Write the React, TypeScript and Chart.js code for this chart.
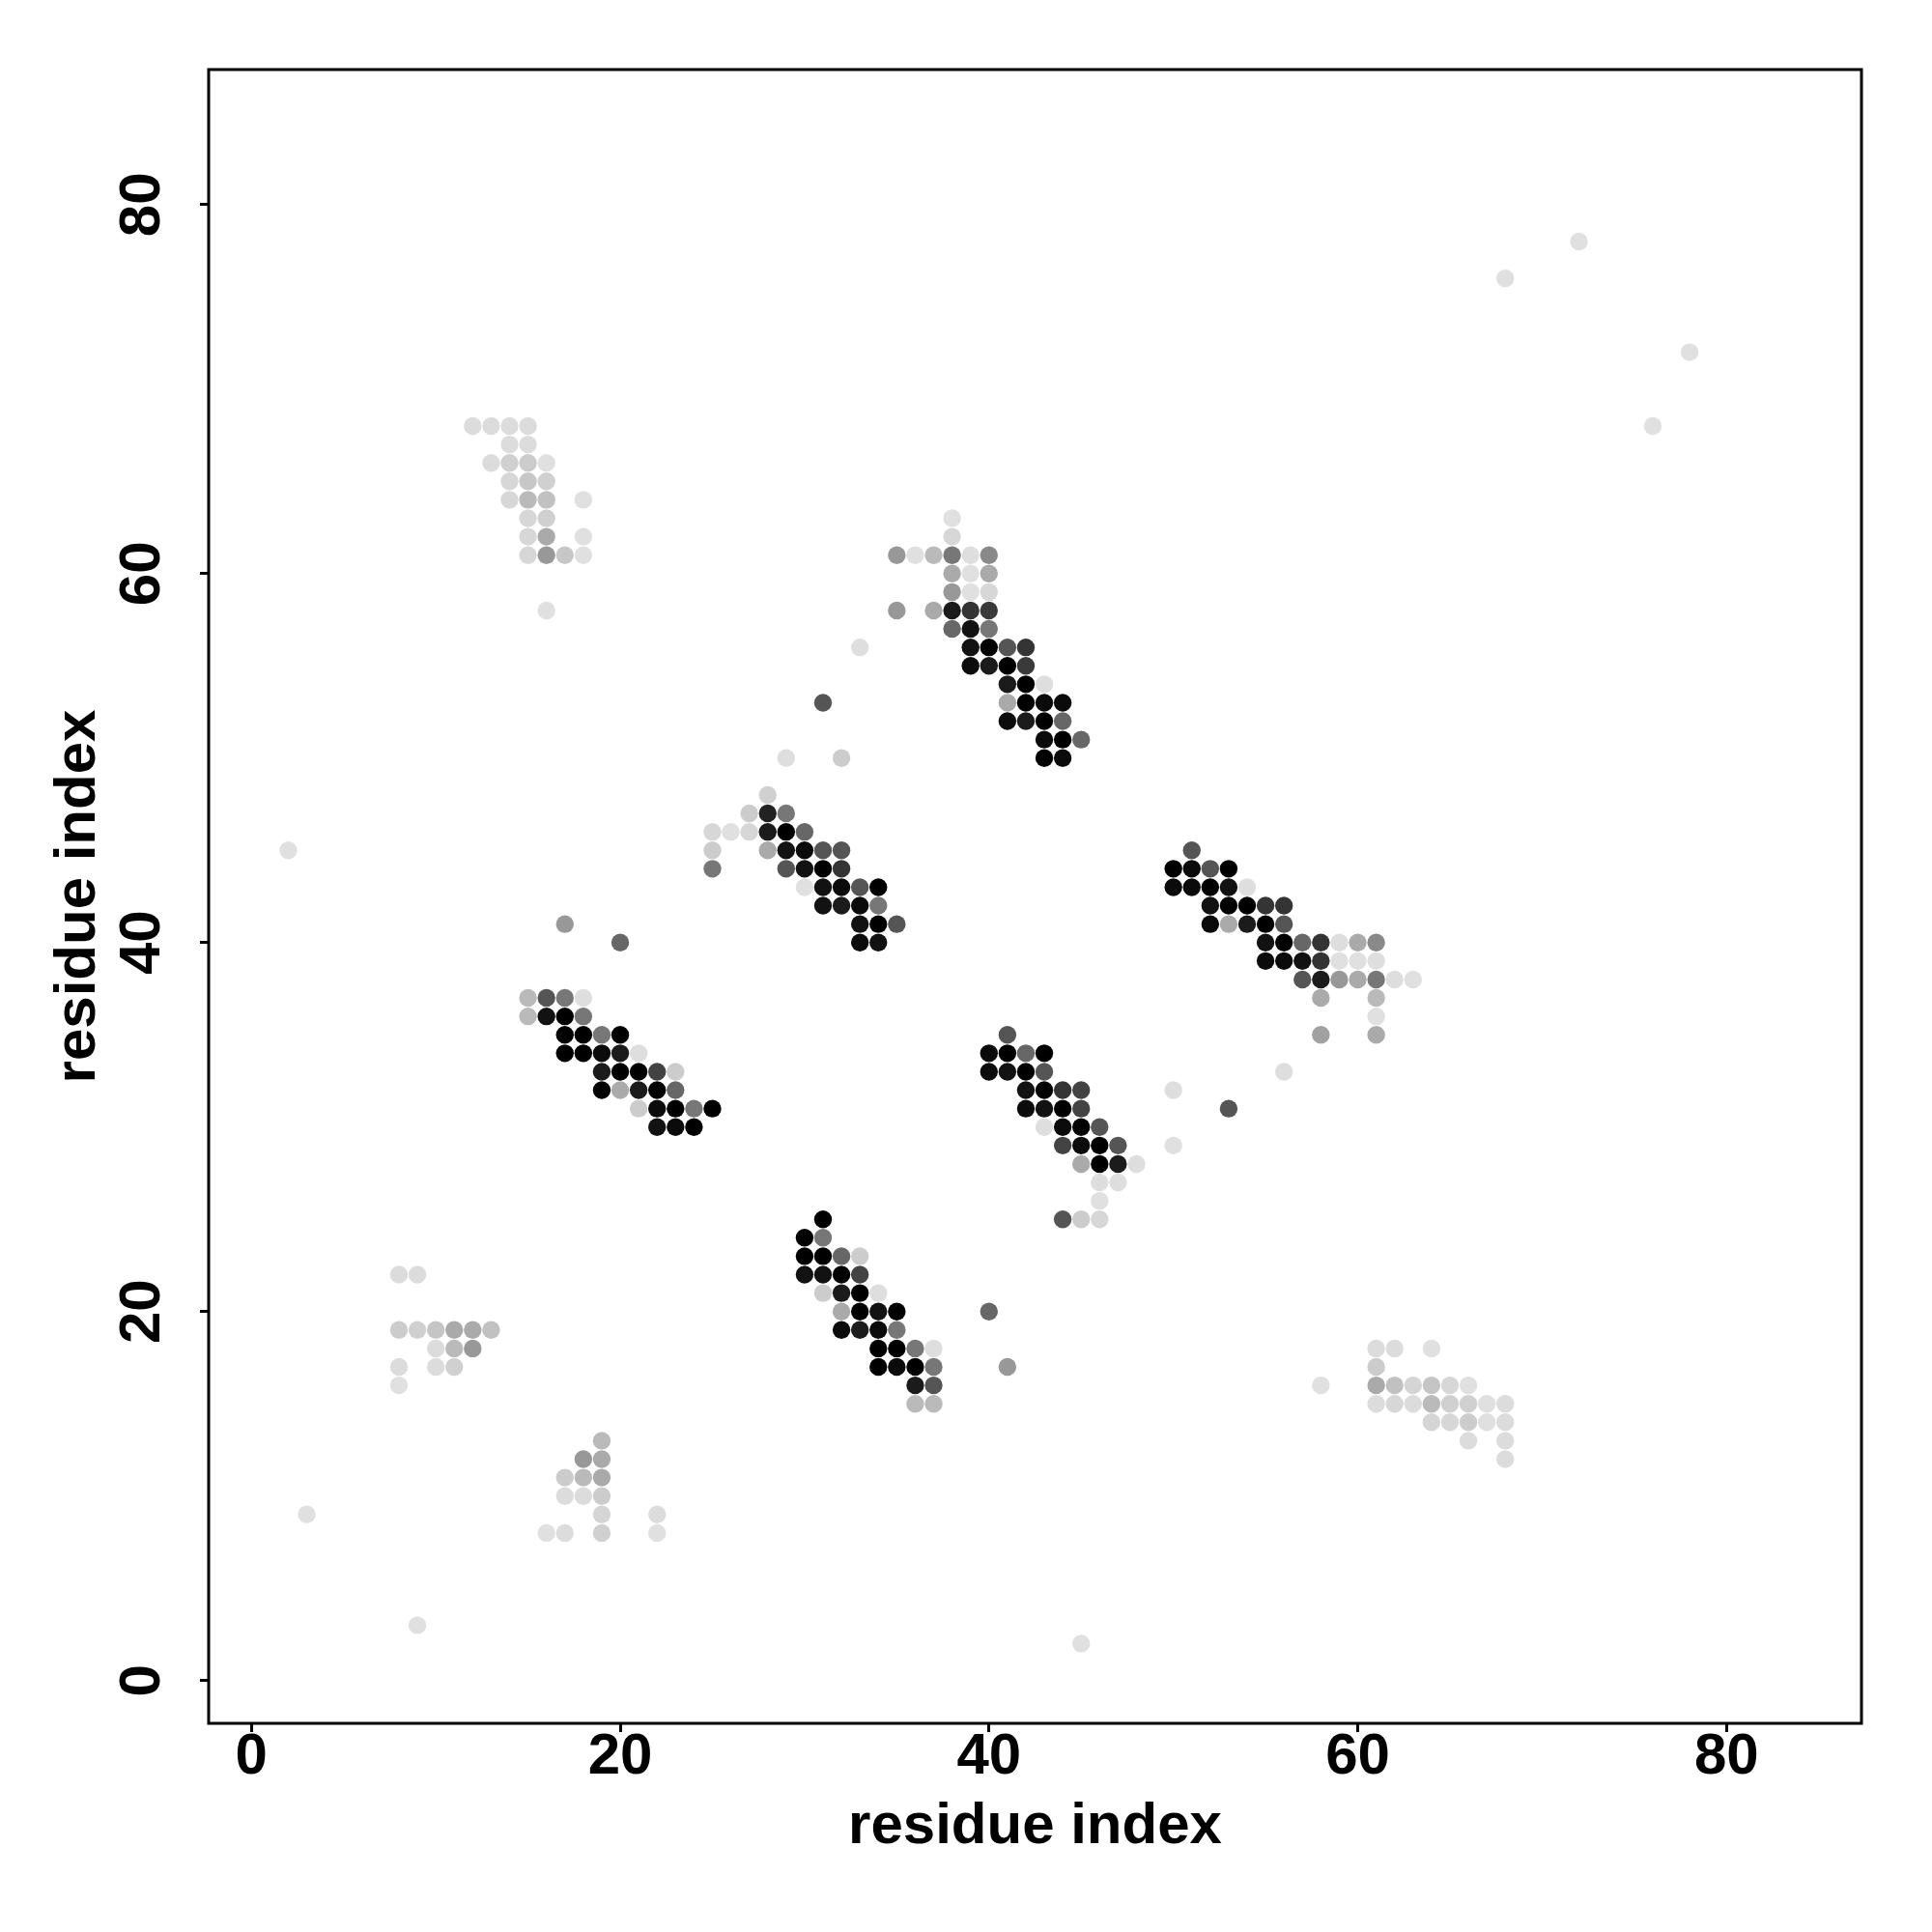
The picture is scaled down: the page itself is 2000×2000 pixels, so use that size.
import React, { useEffect, useRef } from "react";
import { Chart, registerables } from "chart.js";

Chart.register(...registerables);

// Each contact: [residue i, residue j, contact probability]
type Contact = [number, number, number];

const upperLeftContacts: Contact[] = [
  [12, 68, 0.02], [13, 68, 0.02], [14, 68, 0.02], [15, 68, 0.02],
  [14, 67, 0.02], [15, 67, 0.02],
  [13, 66, 0.02], [14, 66, 0.07], [15, 66, 0.09], [16, 66, 0.0],
  [14, 65, 0.04], [15, 65, 0.11], [16, 65, 0.07],
  [14, 64, 0.04], [15, 64, 0.17], [16, 64, 0.14], [18, 64, 0.0],
  [15, 63, 0.04], [16, 63, 0.07],
  [15, 62, 0.04], [16, 62, 0.24], [18, 62, 0.0],
  [15, 61, 0.04], [16, 61, 0.32], [17, 61, 0.11], [18, 61, 0.0],
  [16, 58, 0.0],
];

const hairpinB: Contact[] = [
  [33, 56, 0.01], [31, 53, 0.62], [29, 50, 0.01], [32, 50, 0.09], [35, 58, 0.32],
  [28, 48, 0.07],
  [27, 47, 0.09], [28, 47, 0.85], [29, 47, 0.47],
  [25, 46, 0.04], [26, 46, 0.0], [27, 46, 0.04], [28, 46, 0.88], [29, 46, 1.0], [30, 46, 0.54],
  [25, 45, 0.09], [28, 45, 0.24], [29, 45, 0.92], [30, 45, 0.95], [31, 45, 0.62], [32, 45, 0.62],
  [25, 44, 0.47], [29, 44, 0.62], [30, 44, 0.92], [31, 44, 1.0], [32, 44, 0.77],
  [30, 43, 0.0], [31, 43, 0.92], [32, 43, 0.95], [33, 43, 0.62], [34, 43, 1.0],
  [31, 42, 0.92], [32, 42, 0.88], [33, 42, 0.95], [34, 42, 0.47],
  [33, 41, 0.92], [34, 41, 1.0], [35, 41, 0.62],
  [33, 40, 0.95], [34, 40, 0.92],
];

const hairpinC: Contact[] = [
  [38, 63, 0.0], [38, 62, 0.04],
  [35, 61, 0.32], [36, 61, 0.0], [37, 61, 0.17], [38, 61, 0.47], [39, 61, 0.01], [40, 61, 0.39],
  [38, 60, 0.24], [39, 60, 0.0], [40, 60, 0.24],
  [38, 59, 0.32], [39, 59, 0.0], [40, 59, 0.04],
  [37, 58, 0.24], [38, 58, 0.88], [39, 58, 0.77], [40, 58, 0.74],
  [38, 57, 0.54], [39, 57, 0.92], [40, 57, 0.47],
  [39, 56, 0.92], [40, 56, 1.0], [41, 56, 0.62], [42, 56, 0.77],
  [39, 55, 0.95], [40, 55, 0.88], [41, 55, 1.0], [42, 55, 0.74],
  [41, 54, 0.88], [42, 54, 1.0], [43, 54, 0.01],
  [41, 53, 0.24], [42, 53, 1.0], [43, 53, 0.95], [44, 53, 0.95],
  [41, 52, 0.95], [42, 52, 0.88], [43, 52, 1.0], [44, 52, 0.54],
  [43, 51, 0.95], [44, 51, 1.0], [45, 51, 0.54],
  [43, 50, 1.0], [44, 50, 0.95],
];

const hairpinD: Contact[] = [
  [17, 41, 0.32], [20, 40, 0.54],
  [15, 37, 0.17], [16, 37, 0.62], [17, 37, 0.47], [18, 37, 0.01],
  [15, 36, 0.17], [16, 36, 0.92], [17, 36, 1.0], [18, 36, 0.47],
  [17, 35, 1.0], [18, 35, 1.0], [19, 35, 0.47], [20, 35, 1.0],
  [17, 34, 1.0], [18, 34, 1.0], [19, 34, 0.95], [20, 34, 0.88], [21, 34, 0.01],
  [19, 33, 0.88], [20, 33, 1.0], [21, 33, 1.0], [22, 33, 0.7], [23, 33, 0.09],
  [19, 32, 1.0], [20, 32, 0.24], [21, 32, 0.88], [22, 32, 1.0], [23, 32, 0.54],
  [21, 31, 0.09], [22, 31, 0.95], [23, 31, 1.0], [24, 31, 0.47], [25, 31, 1.0],
  [22, 30, 0.92], [23, 30, 0.95], [24, 30, 1.0],
];

const hairpinE: Contact[] = [
  [41, 35, 0.62],
  [40, 34, 0.95], [41, 34, 1.0], [42, 34, 0.54], [43, 34, 1.0],
  [40, 33, 0.95], [41, 33, 0.92], [42, 33, 1.0], [43, 33, 0.62],
  [42, 32, 0.92], [43, 32, 1.0], [44, 32, 0.77], [45, 32, 0.7],
  [42, 31, 0.95], [43, 31, 0.92], [44, 31, 1.0], [45, 31, 0.7],
  [43, 30, 0.01], [44, 30, 0.95], [45, 30, 1.0], [46, 30, 0.62],
  [44, 29, 0.7], [45, 29, 0.95], [46, 29, 1.0], [47, 29, 0.62],
  [45, 28, 0.24], [46, 28, 1.0], [47, 28, 0.88], [48, 28, 0.01],
  [46, 27, 0.01], [47, 27, 0.01],
  [46, 26, 0.0],
  [44, 25, 0.62], [45, 25, 0.09], [46, 25, 0.04],
];

const hairpinF: Contact[] = [
  [51, 45, 0.62],
  [50, 44, 1.0], [51, 44, 0.95], [52, 44, 0.62], [53, 44, 1.0],
  [50, 43, 0.95], [51, 43, 0.95], [52, 43, 1.0], [53, 43, 0.92], [54, 43, 0.01],
  [52, 42, 0.92], [53, 42, 1.0], [54, 42, 1.0], [55, 42, 0.77], [56, 42, 0.77],
  [52, 41, 0.95], [53, 41, 0.24], [54, 41, 0.88], [55, 41, 1.0], [56, 41, 0.62],
  [55, 40, 0.92], [56, 40, 1.0], [57, 40, 0.54], [58, 40, 0.77], [59, 40, 0.01], [60, 40, 0.24], [61, 40, 0.39],
  [55, 39, 0.95], [56, 39, 0.95], [57, 39, 0.92], [58, 39, 0.77], [59, 39, 0.0], [60, 39, 0.0], [61, 39, 0.01],
  [57, 38, 0.62], [58, 38, 0.88], [59, 38, 0.32], [60, 38, 0.24], [61, 38, 0.47], [62, 38, 0.01], [63, 38, 0.0],
  [58, 37, 0.24], [61, 37, 0.17],
  [61, 36, 0.0],
  [58, 35, 0.28], [61, 35, 0.24],
  [56, 33, 0.01], [50, 32, 0.01], [50, 29, 0.0], [53, 31, 0.62],
];

const hairpinG: Contact[] = [
  [31, 25, 1.0],
  [30, 24, 1.0], [31, 24, 0.47],
  [30, 23, 1.0], [31, 23, 1.0], [32, 23, 0.54], [33, 23, 0.09],
  [30, 22, 0.92], [31, 22, 0.92], [32, 22, 1.0], [33, 22, 0.7],
  [31, 21, 0.09], [32, 21, 0.88], [33, 21, 1.0], [34, 21, 0.01],
  [32, 20, 0.24], [33, 20, 1.0], [34, 20, 0.92], [35, 20, 1.0], [40, 20, 0.54],
  [32, 19, 0.95], [33, 19, 0.88], [34, 19, 0.95], [35, 19, 0.47],
  [34, 18, 1.0], [35, 18, 1.0], [36, 18, 0.47], [37, 18, 0.01],
  [34, 17, 1.0], [35, 17, 0.95], [36, 17, 1.0], [37, 17, 0.47], [41, 17, 0.32],
  [36, 16, 0.88], [37, 16, 0.62],
  [36, 15, 0.17], [37, 15, 0.17],
];

const lowerLeftContacts: Contact[] = [
  [8, 22, 0.02], [9, 22, 0.02],
  [8, 19, 0.09], [9, 19, 0.07], [10, 19, 0.12], [11, 19, 0.24], [12, 19, 0.24], [13, 19, 0.14],
  [10, 18, 0.02], [11, 18, 0.17], [12, 18, 0.32],
  [8, 17, 0.02], [10, 17, 0.02], [11, 17, 0.07],
  [8, 16, 0.0],
  [19, 13, 0.17],
  [18, 12, 0.32], [19, 12, 0.24],
  [17, 11, 0.09], [18, 11, 0.17], [19, 11, 0.24],
  [17, 10, 0.02], [18, 10, 0.02], [19, 10, 0.09],
  [19, 9, 0.05], [22, 9, 0.02],
  [16, 8, 0.0], [17, 8, 0.02], [19, 8, 0.07], [22, 8, 0.0],
];

const lowerRightContacts: Contact[] = [
  [58, 16, 0.0],
  [61, 18, 0.02], [62, 18, 0.02], [64, 18, 0.0],
  [61, 17, 0.09],
  [61, 16, 0.24], [62, 16, 0.14], [63, 16, 0.05], [64, 16, 0.12], [65, 16, 0.04], [66, 16, 0.0],
  [61, 15, 0.02], [62, 15, 0.04], [63, 15, 0.02], [64, 15, 0.17], [65, 15, 0.07], [66, 15, 0.07], [67, 15, 0.0], [68, 15, 0.02],
  [64, 14, 0.05], [65, 14, 0.04], [66, 14, 0.09], [67, 14, 0.0], [68, 14, 0.02],
  [66, 13, 0.02], [68, 13, 0.02],
  [68, 12, 0.02],
];

const isolatedContacts: Contact[] = [
  [2, 45, 0.0], [3, 9, 0.0], [9, 3, 0.0], [45, 2, 0.0],
  [68, 76, 0.0], [72, 78, 0.0], [78, 72, 0.0], [76, 68, 0.0],
];

const tickValues = [0, 20, 40, 60, 80];
const axisMin = -2.32;
const axisMax = 87.32;
const xTitle = "residue index";
const yTitle = "residue index";

const allContacts: Contact[] = [
  ...upperLeftContacts, ...hairpinB, ...hairpinC, ...hairpinD, ...hairpinE,
  ...hairpinF, ...hairpinG, ...lowerLeftContacts, ...lowerRightContacts, ...isolatedContacts,
];

function grayFor(p: number): string {
  const g = Math.round(224 * (1 - p));
  return `rgb(${g},${g},${g})`;
}

const FONT = "'Liberation Sans', Arial, Helvetica, sans-serif";

const boxPlugin = {
  id: "rbox",
  afterDatasetsDraw(chart: any) {
    const { ctx, chartArea: a } = chart;
    ctx.save();
    ctx.strokeStyle = "#000";
    ctx.lineWidth = 3;
    ctx.strokeRect(a.left, a.top, a.right - a.left, a.bottom - a.top);
    ctx.restore();
  },
};

export default function App() {
  const ref = useRef<HTMLCanvasElement | null>(null);

  useEffect(() => {
    if (!ref.current) return;
    const setTicks = (scale: any) => {
      scale.ticks = tickValues.map((v) => ({ value: v }));
    };
    const chart = new Chart(ref.current, {
      type: "scatter",
      data: {
        datasets: [
          {
            data: allContacts.map((c) => ({ x: c[0], y: c[1] })),
            backgroundColor: allContacts.map((c) => grayFor(c[2])),
            pointRadius: 9.2,
            pointHoverRadius: 9.2,
            borderWidth: 0,
          },
        ],
      },
      options: {
        responsive: false,
        animation: false,
        events: [],
        layout: { padding: { top: 72, right: 73, left: 0, bottom: 0 } },
        plugins: { legend: { display: false }, tooltip: { enabled: false } },
        scales: {
          x: {
            type: "linear",
            min: axisMin,
            max: axisMax,
            afterBuildTicks: setTicks,
            afterFit: (s: any) => {
              s.height = 216;
            },
            border: { display: false },
            grid: {
              display: true,
              drawOnChartArea: false,
              drawTicks: true,
              tickLength: 9,
              lineWidth: 3,
              color: "#000",
            },
            ticks: {
              color: "#000",
              padding: -10,
              maxRotation: 0,
              minRotation: 0,
              font: { family: FONT, size: 60, weight: "bold", lineHeight: 1.2 },
            },
            title: {
              display: true,
              text: xTitle,
              color: "#000",
              padding: { top: 0, bottom: 73 },
              font: { family: FONT, size: 60, weight: "bold", lineHeight: 1.2 },
            },
          },
          y: {
            type: "linear",
            min: axisMin,
            max: axisMax,
            afterBuildTicks: setTicks,
            afterFit: (s: any) => {
              s.width = 216;
            },
            border: { display: false },
            grid: {
              display: true,
              drawOnChartArea: false,
              drawTicks: true,
              tickLength: 9,
              lineWidth: 3,
              color: "#000",
            },
            ticks: {
              color: "#000",
              padding: 25,
              minRotation: 90,
              maxRotation: 90,
              crossAlign: "center",
              font: { family: FONT, size: 60, weight: "bold", lineHeight: 1.2 },
            },
            title: {
              display: true,
              text: yTitle,
              color: "#000",
              padding: { top: 45, bottom: 0 },
              font: { family: FONT, size: 60, weight: "bold", lineHeight: 1.2 },
            },
          },
        },
      } as any,
      plugins: [boxPlugin],
    });
    return () => chart.destroy();
  }, []);

  return (
    <div style={{ position: "absolute", left: 0, top: 0, width: 2000, height: 2000, background: "#fff" }}>
      <canvas ref={ref} width={2000} height={2000} style={{ display: "block" }} />
    </div>
  );
}
